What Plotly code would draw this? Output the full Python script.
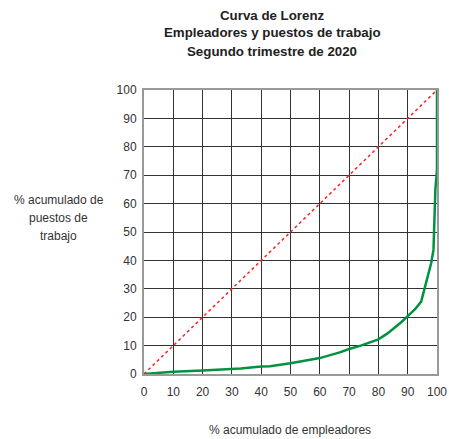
import plotly.graph_objects as go

emp_pct = [0, 10, 20, 30, 33, 40, 43, 50, 60, 66.8, 70, 74, 80, 83, 86, 88, 90, 92.5, 94.6, 96.3, 98, 98.8, 99.2, 99.45, 100, 100]
jobs_pct = [0, 0.8, 1.2, 1.8, 1.9, 2.6, 2.7, 3.8, 5.6, 7.6, 8.8, 10.0, 12.2, 14.2, 16.7, 18.4, 20.4, 22.8, 25.5, 31.9, 39.0, 43.7, 55, 65, 72, 100]
eq_x = [0, 100]
eq_y = [0, 100]
ticks = list(range(0, 101, 10))

font = "Liberation Sans, Arial, sans-serif"

fig = go.Figure()
fig.add_trace(go.Scatter(x=eq_x, y=eq_y, mode="lines",
                         line=dict(color="#ff2020", width=1.5, dash="dot"),
                         hoverinfo="skip", showlegend=False))
fig.add_trace(go.Scatter(x=emp_pct, y=jobs_pct, mode="lines",
                         line=dict(color="#00923f", width=2.5),
                         showlegend=False))

fig.update_layout(
    width=449, height=439,
    margin=dict(l=143.5, r=11.5, t=90, b=65, autoexpand=False),
    paper_bgcolor="white", plot_bgcolor="white",
    font=dict(family=font, size=12, color="#333333"),
    showlegend=False,
)
fig.update_xaxes(range=[0, 100], tickvals=ticks, showgrid=True, gridcolor="#333333", gridwidth=1,
                 showline=True, linecolor="#999999", linewidth=2, mirror=True, automargin=False,
                 zeroline=False, ticks="outside", ticklen=6, tickcolor="white",
                 tickfont=dict(size=12, color="#333333"))
fig.update_yaxes(range=[0, 100], tickvals=ticks, showgrid=True, gridcolor="#333333", gridwidth=1,
                 showline=True, linecolor="#999999", linewidth=2, mirror=True, automargin=False,
                 zeroline=False, ticks="outside", ticklen=3, tickcolor="white",
                 tickfont=dict(size=12, color="#333333"))

titles = ["Curva de Lorenz", "Empleadores y puestos de trabajo", "Segundo trimestre de 2020"]
for i, t in enumerate(titles):
    fig.add_annotation(text="<b>" + t + "</b>", xref="paper", yref="paper",
                       x=(272 - 143.5) / 294, y=(374 - (15 + 18 * i)) / 284, showarrow=False,
                       xanchor="center", yanchor="middle",
                       font=dict(size=13.3, color="#222222", family=font))

ylines = ["% acumulado de", "puestos de", "trabajo"]
for i, t in enumerate(ylines):
    fig.add_annotation(text=t, xref="paper", yref="paper",
                       x=(58 - 143.5) / 294, y=(374 - (200 + 18 * i)) / 284, showarrow=False,
                       xanchor="center", yanchor="middle",
                       font=dict(size=12, color="#333333", family=font))
fig.add_annotation(text="% acumulado de empleadores", xref="paper", yref="paper",
                   x=(290 - 143.5) / 294, y=(374 - 430) / 284, showarrow=False,
                   xanchor="center", yanchor="middle",
                   font=dict(size=12, color="#333333", family=font))

fig.write_html("out.html", config={"displayModeBar": False},
               post_script="document.body.style.margin='0';document.body.style.overflow='hidden';")
